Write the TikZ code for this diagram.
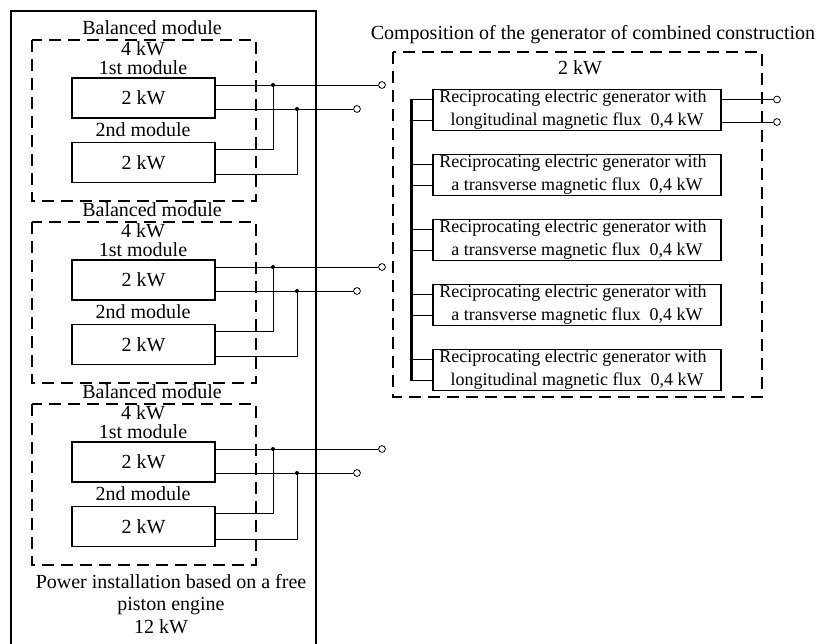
\documentclass[tikz,border=0pt]{standalone}
\usepackage{fontspec}
\setmainfont{Liberation Serif}
\usetikzlibrary{calc}

\begin{document}
\begin{tikzpicture}[x=1pt, y=-1pt, font=\fontsize{20}{22.5}\selectfont,
  dashbox/.style={line width=2.7pt, dash pattern=on 12pt off 7pt},
  lbl/.style={inner sep=0pt},
  unitbox/.style={draw, line width=1.3pt, minimum width=143pt, minimum height=40pt, inner sep=0pt},
  genbox/.style={draw, line width=1.3pt, minimum width=288pt, minimum height=41pt, inner sep=0.5pt,
    align=center, font=\fontsize{18}{23}\selectfont},
  term/.style={draw, circle, minimum size=6.8pt, inner sep=0pt, line width=0.8pt, fill=white},
  wire/.style={line width=0.8pt},
  dot/.style={circle, fill, inner sep=0pt, minimum size=4pt}]
\useasboundingbox (0,0) rectangle (821,643);

% Power installation frame, open at the bottom
\draw[line width=1.2pt] (11,645) -- (11,11) -- (316,11) -- (316,645);

% Three balanced modules
\foreach \i/\dy in {1/0, 2/182, 3/364} {
  \draw[dashbox] (32,40+\dy) rectangle (256,201+\dy);
  \node[lbl] (bal\i) at (152,28+\dy) {Balanced module};
  \node[lbl] (pw\i) at (143,49+\dy) {4 kW};
  \node[lbl] (first\i) at (143,68+\dy) {1st module};
  \node[unitbox] (ua\i) at (143.5,98+\dy) {2 kW};
  \node[lbl] (second\i) at (143,130+\dy) {2nd module};
  \node[unitbox] (ub\i) at (143.5,162.5+\dy) {2 kW};
  % outputs
  \node[term] (ta\i) at (382,85+\dy) {};
  \node[term] (tb\i) at (357,109+\dy) {};
  \coordinate (ja\i) at (273,85+\dy);
  \coordinate (jb\i) at (297,109+\dy);
  \draw[wire] (ua\i.east |- ta\i) -- (ta\i);
  \draw[wire] (ua\i.east |- tb\i) -- (tb\i);
  \draw[wire] ($(ub\i.north east)!0.18!(ub\i.south east)$) -| (ja\i);
  \draw[wire] ($(ub\i.north east)!0.8!(ub\i.south east)$) -| (jb\i);
  \node[dot] (da\i) at (ja\i) {};
  \node[dot] (db\i) at (jb\i) {};
}

\node[align=center] (plant) at (171,604) {Power installation based on a free\\piston engine\\12 kW\kern20pt};

% Generator of combined construction
\node (title) at (593,35) {Composition of the generator of combined construction};
\draw[dashbox] (393,52) rectangle (762,397);
\node (total) at (580,68) {2 kW};

\node[genbox] (g1) at (577,110) {Reciprocating electric generator with\kern8pt\\longitudinal magnetic flux\ \ 0,4 kW};
\node[genbox] (g2) at (577,175) {Reciprocating electric generator with\kern8pt\\a transverse magnetic flux\ \ 0,4 kW};
\node[genbox] (g3) at (577,240) {Reciprocating electric generator with\kern8pt\\a transverse magnetic flux\ \ 0,4 kW};
\node[genbox] (g4) at (577,305) {Reciprocating electric generator with\kern8pt\\a transverse magnetic flux\ \ 0,4 kW};
\node[genbox] (g5) at (577,370) {Reciprocating electric generator with\kern8pt\\longitudinal magnetic flux\ \ 0,4 kW};

% common bus
\coordinate (bus) at (411,0);
\foreach \k in {1,...,5} {
  \path ($(g\k.north west)!0.25!(g\k.south west)$) coordinate (ga\k)
        ($(g\k.north west)!0.75!(g\k.south west)$) coordinate (gb\k);
  \draw[wire] (ga\k) -- (bus |- ga\k);
  \draw[wire] (gb\k) -- (bus |- gb\k);
}
\draw[line width=3pt] (bus |- ga1) -- (bus |- gb5);

% generator outputs
\node[term] (to1) at (777,99.5) {};
\node[term] (to2) at (777,122) {};
\draw[wire] (g1.east |- to1) -- (to1);
\draw[wire] (g1.east |- to2) -- (to2);
\end{tikzpicture}
\end{document}
